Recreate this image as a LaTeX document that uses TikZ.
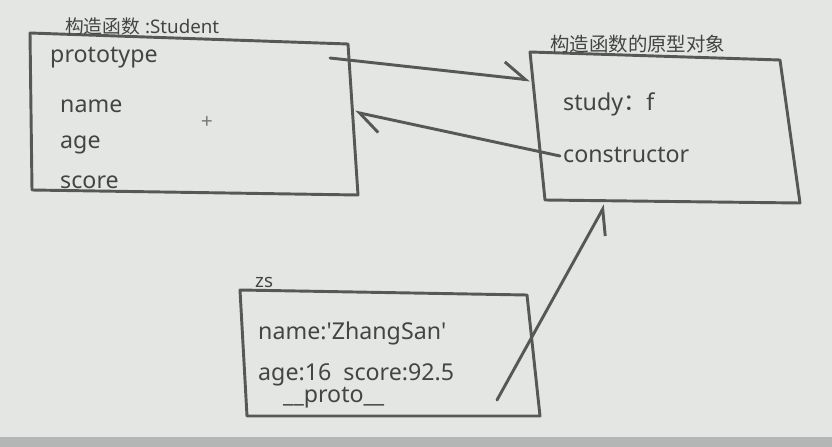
\documentclass[tikz,border=0pt]{standalone}
\usepackage{fontspec}
\setmainfont{Noto Sans}
\newfontfamily\cjk{Noto Sans CJK SC}
\usetikzlibrary{arrows.meta}
\definecolor{board}{HTML}{E4E6E4}
\definecolor{rim}{HTML}{B4B6B5}
\definecolor{pen}{HTML}{575757}
\definecolor{chalk}{HTML}{444444}
\tikzset{
  box/.style={draw=pen, line width=2.5pt, line join=round},
  field/.style={anchor=base west, inner sep=0pt, font=\fontsize{19.8}{19.8}\selectfont, text=chalk},
  title/.style={anchor=base west, inner sep=0pt, font=\fontsize{16}{16}\selectfont, text=chalk},
  link/.style={draw=pen, line width=2.5pt, line cap=round},
  barb/.style={-{Straight Barb[harpoon,#1,length=19pt,width=26pt]}},
}

\begin{document}
\begin{tikzpicture}[x=0.03cm, y=-0.03cm]
    % slide background
    \fill[board] (0,0) rectangle (832,447);
    \fill[rim] (0,437) rectangle (832,447);

    % constructor box
    \coordinate (c1) at (30,33);  \coordinate (c2) at (348,44);
    \coordinate (c3) at (358,195); \coordinate (c4) at (32,190);
    \draw[box] (c1) -- (c2) -- (c3) -- (c4) -- cycle;
    \node[title] (ctitle) at (65,33) {{\cjk 构造函数} :Student};
    \node[field] (proto) at (50,62) {prototype};
    \node[field] (name) at (60,112) {name};
    \node[field] (age) at (60,148) {age};
    \node[field] (score) at (60,188) {score};
    \node[text=chalk!70, font=\fontsize{20}{20}\selectfont\ttfamily] (cursor) at (207,122) {+};

    % prototype object box
    \coordinate (p1) at (530,52);  \coordinate (p2) at (780,60);
    \coordinate (p3) at (800,203); \coordinate (p4) at (545,200);
    \draw[box] (p1) -- (p2) -- (p3) -- (p4) -- cycle;
    \node[title, font=\fontsize{16.6}{16.6}\selectfont\cjk] (ptitle) at (550,51) {构造函数的原型对象};
    \node[field] (study) at (563,110) {study{\cjk ：}f};
    \node[field] (ctor) at (563,162) {constructor};

    % instance box
    \coordinate (z1) at (240,290); \coordinate (z2) at (527,295);
    \coordinate (z3) at (540,416); \coordinate (z4) at (247,416);
    \draw[box] (z1) -- (z2) -- (z3) -- (z4) -- cycle;
    \node[title] (ztitle) at (255,287) {zs};
    \node[field] (zname) at (258,339) {name:\textquotesingle ZhangSan\textquotesingle};
    \node[field] (zage) at (258,380) {age:16\ \ score:92.5};
    \node[field] (zproto) at (283,402) {\_\_proto\_\_};

    % links
    \coordinate (protoend) at (330,58);
    \coordinate (pin) at (530,80);
    \coordinate (ctorend) at (560,156);
    \coordinate (cin) at (355,112);
    \coordinate (zout) at (497,400);
    \coordinate (pbot) at (605,205);
    \draw[link, barb=] (protoend) -- (pin);
    \draw[link, barb=] (ctorend) -- (cin);
    \draw[link, barb=swap] (zout) -- (pbot);
\end{tikzpicture}
\end{document}
